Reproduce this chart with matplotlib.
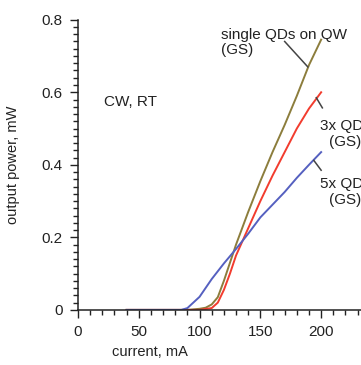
import numpy as np
import matplotlib.pyplot as plt
from matplotlib.ticker import MultipleLocator

# ===============================
# Data
# ===============================
current_single = [40, 90, 100, 105, 110, 115, 120, 125, 130, 140, 150, 160, 170, 180, 190, 200]
power_single = [0, 0, 0.003, 0.006, 0.015, 0.035, 0.08, 0.13, 0.18, 0.27, 0.355, 0.435, 0.51, 0.59, 0.675, 0.745]

current_3x = [40, 100, 110, 115, 120, 125, 130, 140, 150, 160, 170, 180, 190, 200]
power_3x = [0, 0, 0.005, 0.02, 0.055, 0.10, 0.15, 0.225, 0.30, 0.37, 0.435, 0.50, 0.555, 0.60]

current_5x = [40, 85, 90, 100, 110, 120, 130, 140, 150, 160, 170, 180, 190, 200]
power_5x = [0, 0, 0.005, 0.036, 0.085, 0.128, 0.168, 0.21, 0.255, 0.29, 0.325, 0.364, 0.40, 0.435]

x_ticks = [0, 50, 100, 150, 200]
y_ticks = [0, 0.2, 0.4, 0.6, 0.8]
y_ticklabels = ["0", "0.2", "0.4", "0.6", "0.8"]

# ===============================
# Figure
# ===============================
plt.rcParams['font.family'] = ['Liberation Sans', 'DejaVu Sans']
plt.rcParams['font.size'] = 11

fig = plt.figure(figsize=(3.61, 3.65), dpi=100)
ax = fig.add_axes([0.216, 0.151, 0.842, 0.795])

ax.plot(current_single, power_single, color="#8c7d3c", lw=1.4)
ax.plot(current_3x, power_3x, color="#f23c2e", lw=1.4)
ax.plot(current_5x, power_5x, color="#5560c0", lw=1.4)

ax.set_xlim(0, 250)
ax.set_ylim(0, 0.8)
ax.set_xticks(x_ticks)
ax.set_yticks(y_ticks)
ax.set_yticklabels(y_ticklabels)
ax.xaxis.set_minor_locator(MultipleLocator(10))
ax.yaxis.set_minor_locator(MultipleLocator(0.02))
ax.tick_params(which="major", direction="out", length=6, width=1, pad=5, colors="#222222", labelsize=11)
ax.tick_params(which="minor", direction="out", length=3.5, width=1, colors="#222222")

for s in ["top", "right"]:
    ax.spines[s].set_visible(False)
for s in ["left", "bottom"]:
    ax.spines[s].set_linewidth(1.1)
    ax.spines[s].set_color("#222222")

ax.set_xlabel("current, mA", fontsize=10.5, color="#222222")
ax.xaxis.set_label_coords(0.237, -0.122)
ax.set_ylabel("output power, mW", fontsize=10.5, color="#222222")
ax.yaxis.set_label_coords(-0.19, 0.5)

# annotations
ax.text(21, 0.574, "CW, RT", fontsize=11, va="center", color="#222222")
ax.text(117.5, 0.737, "single QDs on QW\n(GS)", fontsize=11, va="center", ha="left",
        linespacing=1.15, color="#222222")
ax.text(220, 0.485, "3x QDs\n(GS)", fontsize=11, va="center", ha="center",
        linespacing=1.15, color="#222222")
ax.text(220, 0.325, "5x QDs\n(GS)", fontsize=11, va="center", ha="center",
        linespacing=1.15, color="#222222")

# leader lines
ax.plot([170, 189], [0.740, 0.670], color="#444444", lw=1.1, clip_on=False)
ax.plot([196, 201], [0.585, 0.557], color="#444444", lw=1.1, clip_on=False)
ax.plot([194, 200], [0.412, 0.385], color="#444444", lw=1.1, clip_on=False)

fig.savefig("out.png", dpi=100)
